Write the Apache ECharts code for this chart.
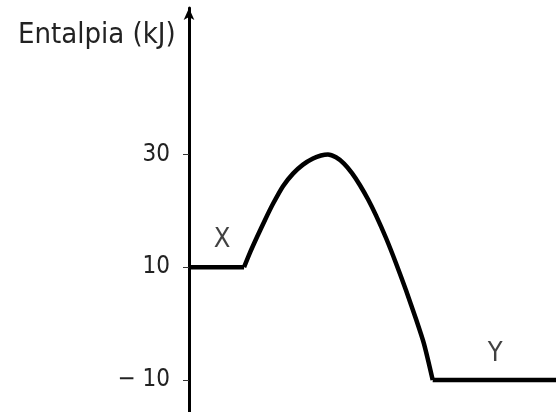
<!DOCTYPE html>
<html>
<head>
<meta charset="utf-8">
<script src="https://cdn.jsdelivr.net/npm/echarts@6/dist/echarts.min.js"></script>
<style>
  html, body { margin: 0; padding: 0; background: #fff; }
  #chart { width: 556px; height: 412px; }
</style>
</head>
<body>
<div id="chart"></div>
<script>
// reaction coordinate (0..100) and enthalpy in kJ
const startX = [0, 15.0]
const startY = [10, 10]
const curveX = [15.0, 16.62, 18.53, 20.71, 22.89, 25.61, 28.34, 31.06, 33.79, 35.97, 37.87,
	40.05, 42.23, 44.41, 46.59, 48.77, 50.95, 53.68, 56.40, 59.13, 61.85, 64.03, 66.40]
const curveY = [10, 12.59, 15.36, 18.39, 21.25, 24.38, 26.61, 28.21, 29.29, 29.82, 30,
	29.5, 28.39, 26.7, 24.55, 22.05, 19.2, 15.18, 10.71, 5.89, 0.8, -3.6, -10]
const endX = [66.40, 100]
const endY = [-10, -10]
const tickValues = [-10, 10, 30]
const stateLabels = ['X', 'Y']
const stateLabelX = [9.0, 83.4]
const stateLabelY = [14.8, -5.4]

const pairs = (xs, ys) => xs.map((x, i) => [x, ys[i]])
const font = 'DejaVu Sans Condensed'
const lineStyle = { color: '#000', width: 4.5 }

const myChart = echarts.init(document.getElementById('chart'))
myChart.setOption({
	animation: false,
	title: {
		text: 'Entalpia (kJ)',
		left: 13,
		top: 16,
		textStyle: { fontFamily: font, fontSize: 29, fontWeight: 'normal', color: '#222' }
	},
	grid: { left: 189, right: 0, top: 8, bottom: 0 },
	xAxis: {
		type: 'value',
		min: 0,
		max: 100,
		show: false
	},
	yAxis: {
		type: 'value',
		min: -15.7,
		max: 56,
		splitLine: { show: false },
		axisLine: {
			show: true,
			lineStyle: { color: '#000', width: 3 },
			symbol: ['none', 'arrow'],
			symbolSize: [8, 12]
		},
		axisTick: {
			show: true,
			customValues: tickValues,
			length: 6,
			lineStyle: { color: '#333', width: 1 }
		},
		axisLabel: {
			customValues: tickValues,
			margin: 19,
			fontFamily: font,
			fontSize: 24,
			color: '#222',
			formatter: v => (v < 0 ? '\u2212 ' + Math.abs(v) : String(v))
		}
	},
	series: [
		{ type: 'line', data: pairs(startX, startY), symbol: 'none', lineStyle: lineStyle },
		{ type: 'line', data: pairs(curveX, curveY), symbol: 'none', smooth: 0.25, lineStyle: lineStyle },
		{ type: 'line', data: pairs(endX, endY), symbol: 'none', lineStyle: lineStyle },
		{
			type: 'scatter',
			symbolSize: 0,
			silent: true,
			data: pairs(stateLabelX, stateLabelY),
			label: {
				show: true,
				position: 'inside',
				formatter: p => stateLabels[p.dataIndex],
				fontFamily: font,
				fontSize: 27,
				color: '#111'
			}
		}
	]
})
window.addEventListener('resize', function() {
	myChart.resize()
})
</script>
</body>
</html>
